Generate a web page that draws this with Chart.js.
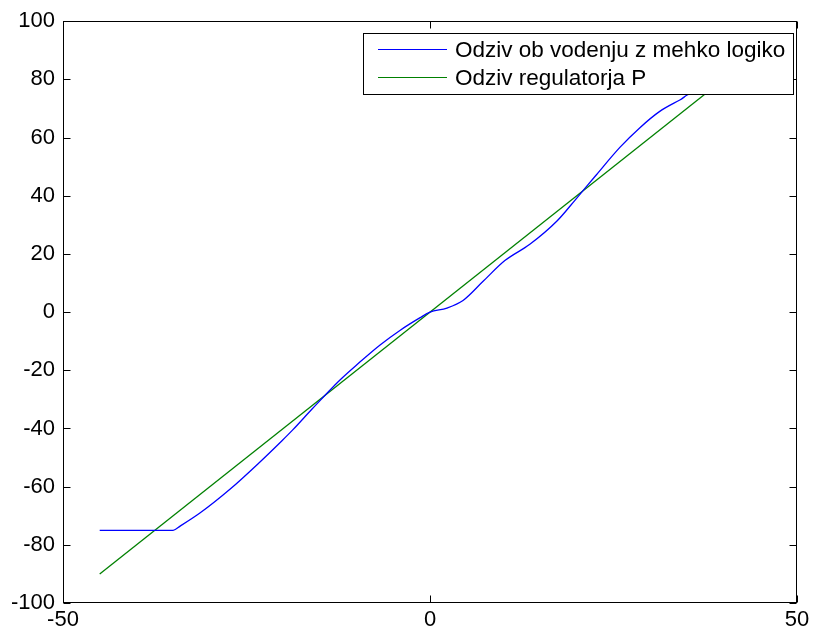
<!DOCTYPE html>
<html>
<head>
<meta charset="utf-8">
<script src="https://cdn.jsdelivr.net/npm/chart.js@4.4.1/dist/chart.umd.min.js"></script>
<style>
  html, body { margin: 0; padding: 0; background: #fff; }
</style>
</head>
<body>
<canvas id="odziv" width="818" height="634"></canvas>
<script>
// series names shown in the legend box
const seriesNames = ['Odziv ob vodenju z mehko logiko', 'Odziv regulatorja P'];
const seriesColors = ['#0000ff', '#008000'];

// fuzzy controller response (saturates at +-75)
const fuzzyX = [-45, -35, -34, -31.3, -27.3, -23.2, -20.2, -18.7, -16.1, -12.3, -9.7, -6.8, -4.1, -1.4, 0,
  2.3, 4.5, 7.2, 10.2, 13.6, 17.3, 19.8, 22.5, 25.9, 28.6, 31.3, 34.1, 35.5, 45];
const fuzzyY = [-75, -75, -73.5, -69.0, -61.0, -51.6, -44.3, -40.5, -33.4, -23.4, -17.5, -11.3, -6.3, -2.0, 0,
  1.4, 4.0, 10.5, 17.7, 23.3, 31.3, 38.6, 46.7, 56.7, 63.4, 69.0, 73.0, 75, 75];

// proportional controller response
const propX = [-45, 45];
const propY = [-90, 90];

const xTicks = [-50, 0, 50];
const yTicks = [-100, -80, -60, -40, -20, 0, 20, 40, 60, 80, 100];

const FONT = 'Liberation Sans, Arial, Helvetica, sans-serif';
const SIZE = 22;
const LEGEND_SIZE = 22.5;

function toPoints(xs, ys) {
  return xs.map((x, i) => ({ x: x, y: ys[i] }));
}

// box round the axes with inward tick marks on all four sides
const axesBox = {
  id: 'axesBox',
  afterDatasetsDraw(chart) {
    const c = chart.ctx;
    const a = chart.chartArea;
    const L = Math.round(a.left) + 0.5, R = Math.round(a.right) - 0.5;
    const T = Math.round(a.top) + 0.5, B = Math.round(a.bottom) - 0.5;
    const len = 7;
    c.save();
    c.strokeStyle = '#000';
    c.lineWidth = 1;
    c.strokeRect(L, T, R - L, B - T);
    c.beginPath();
    chart.scales.x.ticks.forEach(t => {
      const px = Math.round(chart.scales.x.getPixelForValue(t.value)) + 0.5;
      c.moveTo(px, B); c.lineTo(px, B - len);
      c.moveTo(px, T); c.lineTo(px, T + len);
    });
    chart.scales.y.ticks.forEach(t => {
      const py = Math.round(chart.scales.y.getPixelForValue(t.value)) + 0.5;
      c.moveTo(L, py); c.lineTo(L + len, py);
      c.moveTo(R, py); c.lineTo(R - len, py);
    });
    c.stroke();
    c.restore();
  }
};

// boxed legend in the upper right corner of the plot
const boxLegend = {
  id: 'boxLegend',
  afterDraw(chart) {
    const c = chart.ctx;
    const a = chart.chartArea;
    c.save();
    c.font = LEGEND_SIZE + 'px ' + FONT;
    const textW = Math.max(...seriesNames.map(s => c.measureText(s).width));
    const lineLen = 69, padL = 15, gap = 8, padR = 8, rowH = 28;
    const w = Math.round(padL + lineLen + gap + textW + padR);
    const h = 61;
    const x = Math.round(a.right) - 4 - w;
    const y = Math.round(a.top) + 12;
    c.fillStyle = '#fff';
    c.fillRect(x, y, w, h);
    c.strokeStyle = '#000';
    c.lineWidth = 1;
    c.strokeRect(x + 0.5, y + 0.5, w, h);
    c.textBaseline = 'middle';
    c.textAlign = 'left';
    seriesNames.forEach((name, i) => {
      const ry = y + 16 + i * rowH + 0.5;
      c.strokeStyle = seriesColors[i];
      c.lineWidth = 1.2;
      c.beginPath();
      c.moveTo(x + padL, ry);
      c.lineTo(x + padL + lineLen, ry);
      c.stroke();
      c.fillStyle = '#000';
      c.fillText(name, x + padL + lineLen + gap, ry + 1);
    });
    c.restore();
  }
};

new Chart(document.getElementById('odziv'), {
  type: 'line',
  data: {
    datasets: [
      {
        label: seriesNames[0],
        data: toPoints(fuzzyX, fuzzyY),
        borderColor: seriesColors[0],
        borderWidth: 1.3,
        pointRadius: 0,
        cubicInterpolationMode: 'monotone',
        fill: false
      },
      {
        label: seriesNames[1],
        data: toPoints(propX, propY),
        borderColor: seriesColors[1],
        borderWidth: 1.3,
        pointRadius: 0,
        tension: 0,
        fill: false
      }
    ]
  },
  options: {
    responsive: false,
    animation: false,
    devicePixelRatio: 1,
    layout: { padding: { top: 20, right: 21, left: 0, bottom: 0 } },
    plugins: {
      legend: { display: false },
      tooltip: { enabled: false }
    },
    scales: {
      x: {
        type: 'linear',
        min: -50,
        max: 50,
        afterBuildTicks: s => { s.ticks = xTicks.map(v => ({ value: v })); },
        afterFit: s => { s.height = 31; },
        grid: { display: false, drawTicks: false },
        border: { display: false },
        ticks: { color: '#000', padding: 4, maxRotation: 0, autoSkip: false, font: { family: FONT, size: SIZE } }
      },
      y: {
        type: 'linear',
        min: -100,
        max: 100,
        afterBuildTicks: s => { s.ticks = yTicks.map(v => ({ value: v })); },
        afterFit: s => { s.width = 63; },
        grid: { display: false, drawTicks: false },
        border: { display: false },
        ticks: { color: '#000', padding: 8, autoSkip: false, font: { family: FONT, size: SIZE } }
      }
    }
  },
  plugins: [axesBox, boxLegend]
});
</script>
</body>
</html>
